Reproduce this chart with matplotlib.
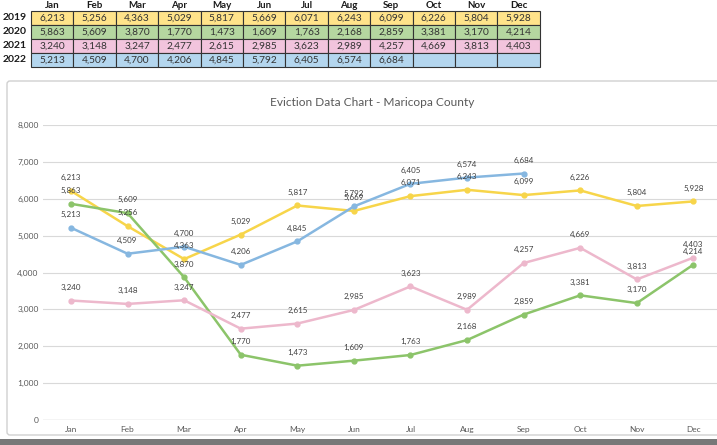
import matplotlib.pyplot as plt
from matplotlib.patches import Rectangle, FancyBboxPatch

plt.rcParams['font.family'] = ['Lato', 'DejaVu Sans']

months = ['Jan', 'Feb', 'Mar', 'Apr', 'May', 'Jun', 'Jul', 'Aug', 'Sep', 'Oct', 'Nov', 'Dec']
years = ['2019', '2020', '2021', '2022']
y2019 = [6213, 5256, 4363, 5029, 5817, 5669, 6071, 6243, 6099, 6226, 5804, 5928]
y2020 = [5863, 5609, 3870, 1770, 1473, 1609, 1763, 2168, 2859, 3381, 3170, 4214]
y2021 = [3240, 3148, 3247, 2477, 2615, 2985, 3623, 2989, 4257, 4669, 3813, 4403]
y2022 = [5213, 4509, 4700, 4206, 4845, 5792, 6405, 6574, 6684]
series = [y2019, y2020, y2021, y2022]

line_colors = ['#F7D54A', '#8CC46A', '#EDB8CC', '#86B7E0']
cell_colors = ['#FFE38A', '#B5D7A0', '#F2C4DD', '#B4D6EE']

W, H = 717, 445
fig = plt.figure(figsize=(W / 100, H / 100), dpi=100)

# background layer in pixel coords
bg = fig.add_axes([0, 0, 1, 1])
bg.set_xlim(0, W)
bg.set_ylim(H, 0)
bg.axis('off')

# chart frame and the grey strip at the bottom
bg.add_patch(FancyBboxPatch((7, 81), 740, 354, boxstyle='round,pad=0,rounding_size=3',
                            fc='white', ec='#d0d0d0', lw=1))
bg.add_patch(Rectangle((0, 439), W, 6, fc='#787878', ec='none'))

# table at the top
x0, cw = 31, 42.4
y0, rh = 11, 14
for j, m in enumerate(months):
    bg.text(x0 + cw * (j + 0.5), 5, m, ha='center', va='center',
            fontsize=7, fontweight='bold', color='#1a1a1a')
for i, (yr, vals) in enumerate(zip(years, series)):
    yc = y0 + rh * (i + 0.5)
    bg.text(27, yc, yr, ha='right', va='center', fontsize=7.5,
            fontweight='bold', color='#1a1a1a')
    for j in range(len(months)):
        bg.add_patch(Rectangle((x0 + cw * j, y0 + rh * i), cw, rh,
                               fc=cell_colors[i], ec='#333333', lw=0.8))
        if j < len(vals):
            bg.text(x0 + cw * (j + 0.5), yc, f'{vals[j]:,}', ha='center',
                    va='center', fontsize=7.3, color='#333333')

# chart title
bg.text(372, 102, 'Eviction Data Chart - Maricopa County', ha='center', va='center',
        fontsize=8.6, color='#595959')

# line chart
ax = fig.add_axes([42.7 / W, 25 / H, 679 / W, 295 / H])
ax.set_xlim(-0.5, 11.5)
ax.set_ylim(0, 8000)
ax.set_facecolor('none')
ax.set_yticks(range(0, 8001, 1000))
ax.set_yticklabels([f'{v:,}' for v in range(0, 8001, 1000)])
ax.set_xticks(range(12))
ax.set_xticklabels(months)
ax.grid(axis='y', color='#d9d9d9', lw=0.8)
ax.set_axisbelow(True)
for s in ax.spines.values():
    s.set_visible(False)
ax.axhline(0, color='#bfbfbf', lw=0.9)
ax.tick_params(length=0, labelsize=6, labelcolor='#595959')
ax.tick_params(axis='y', pad=3)
ax.tick_params(axis='x', pad=4)

for vals, c in zip(series, line_colors):
    xs = range(len(vals))
    ax.plot(xs, vals, color=c, lw=1.8, marker='o', ms=3.5, zorder=3)
    for x, v in zip(xs, vals):
        ax.annotate(f'{v:,}', (x, v), xytext=(0, 7), textcoords='offset points',
                    ha='center', va='bottom', fontsize=5.8, color='#404040', zorder=4)

fig.savefig('out.png', dpi=100)
